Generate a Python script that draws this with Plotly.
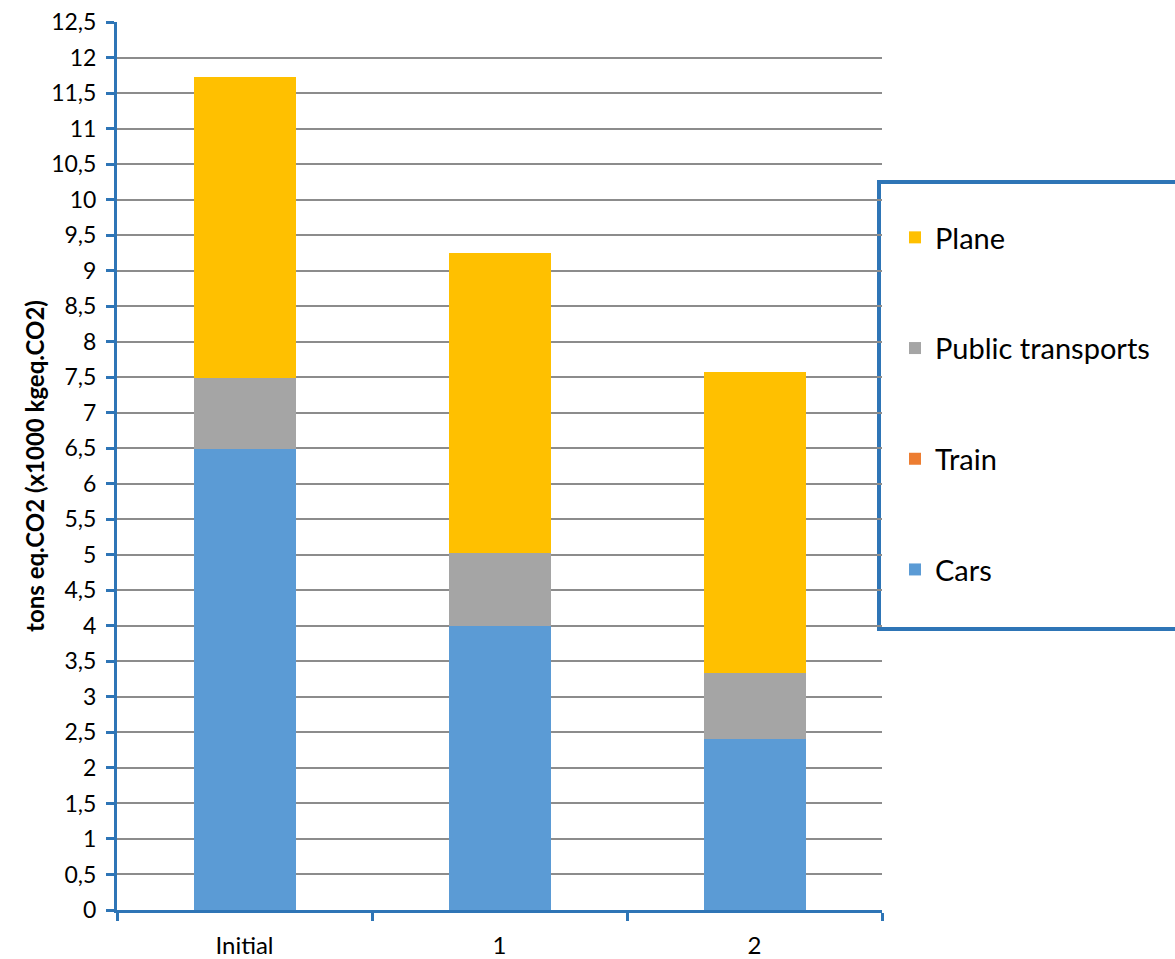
import plotly.graph_objects as go

categories = ["Initial", "1", "2"]
cars = [6.49, 4.0, 2.41]
train = [0.0, 0.0, 0.0]
public_transports = [1.0, 1.03, 0.93]
plane = [4.23, 4.22, 4.23]

tick_vals = [i * 0.5 for i in range(26)]
tick_text = [("%g" % v).replace(".", ",") for v in tick_vals]

FONT = "Lato"
AX = "#2E75B6"

W, H = 1175, 959
L, R, T, B = 117, 882, 22, 910

def px_x(p):
    return (p - L) / (R - L)

def px_y(q):
    return (B - q) / (B - T)

fig = go.Figure()
series = [
    ("Cars", cars, "#5B9BD5", 4),
    ("Train", train, "#ED7D31", 3),
    ("Public transports", public_transports, "#A5A5A5", 2),
    ("Plane", plane, "#FFC000", 1),
]
for name, vals, col, rank in series:
    fig.add_trace(go.Bar(
        x=categories, y=vals, name=name, legendgroup=name, legendrank=rank,
        marker=dict(color=col, line=dict(width=0)),
    ))

fig.update_layout(
    width=W, height=H,
    barmode="stack", bargap=0.6,
    plot_bgcolor="white", paper_bgcolor="white",
    margin=dict(l=L, r=W - R, t=T, b=H - B, autoexpand=False),
    font=dict(family=FONT, size=22, color="black"),
    showlegend=True,
    legend=dict(
        x=px_x(895), y=px_y(212), xanchor="left", yanchor="top",
        traceorder="grouped", tracegroupgap=70,
        font=dict(family=FONT, size=29, color="black"),
        bgcolor="rgba(0,0,0,0)", borderwidth=0,
    ),
    shapes=[dict(
        type="rect", xref="paper", yref="paper",
        x0=px_x(879), x1=px_x(1185), y0=px_y(182), y1=px_y(629),
        line=dict(color=AX, width=4), fillcolor="white", layer="below",
    )],
)

fig.update_xaxes(
    showline=True, linecolor=AX, linewidth=3,
    ticks="outside", tickson="boundaries", ticklen=8, tickwidth=3, tickcolor=AX,
    tickfont=dict(family=FONT, size=24, color="black"),
    showgrid=False, ticklabelstandoff=12,
)
fig.update_yaxes(
    range=[0, 12.5], tickvals=tick_vals, ticktext=tick_text,
    showline=True, linecolor=AX, linewidth=3,
    ticks="outside", ticklen=8, tickwidth=3, tickcolor=AX,
    tickfont=dict(family=FONT, size=23, color="black"),
    ticklabelstandoff=5,
    showgrid=True, gridcolor="#8C8C8C", gridwidth=2,
    zeroline=False,
    title=dict(text="<b>tons eq.CO2 (x1000 kgeq.CO2)</b>",
               font=dict(family=FONT, size=24, color="black"), standoff=0),
)

fig.write_html("out.html")
